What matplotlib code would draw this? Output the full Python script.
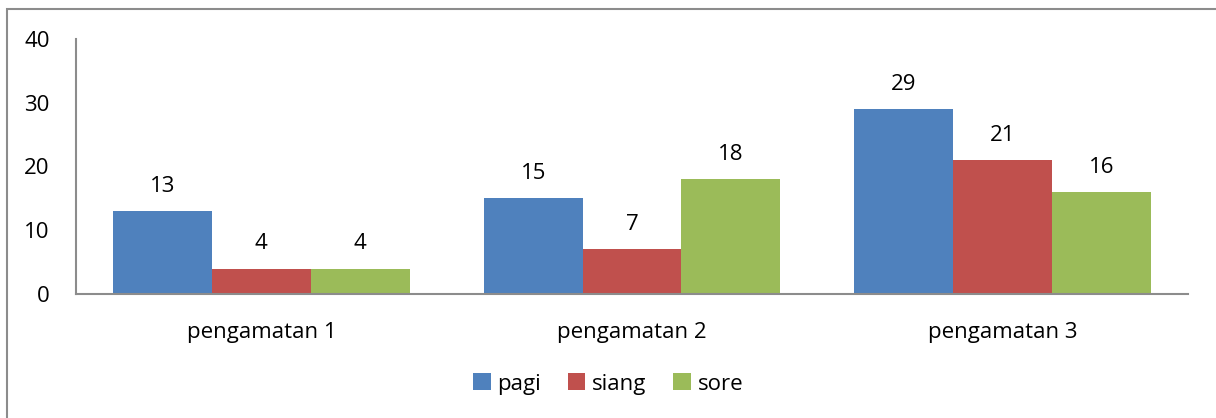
import matplotlib.pyplot as plt
import numpy as np
from matplotlib.patches import Rectangle

categories = ["pengamatan 1", "pengamatan 2", "pengamatan 3"]
series = ["pagi", "siang", "sore"]
pagi = [13, 15, 29]
siang = [4, 7, 21]
sore = [4, 18, 16]
colors = ["#4F81BD", "#C0504D", "#9BBB59"]

plt.rcParams['font.family'] = ['Open Sans', 'DejaVu Sans']

fig = plt.figure(figsize=(12.16, 4.18), dpi=100)
ax = fig.add_axes([76/1216, 1 - 294/418, (1188 - 76)/1216, (294 - 39)/418])

# outer chart frame
fig.patches.append(Rectangle((7/1216, -0.05), 1.1, 1 - 9.5/418 + 0.05, transform=fig.transFigure,
                             fill=False, edgecolor="#8c8c8c", linewidth=1.5))

x = np.arange(len(categories))
w = 0.8 / 3
for i, (name, vals) in enumerate(zip(series, [pagi, siang, sore])):
    bars = ax.bar(x + (i - 1) * w, vals, w, color=colors[i], label=name)
    for b, v in zip(bars, vals):
        ax.text(b.get_x() + b.get_width() / 2, v + 2.2, str(v), ha="center", va="bottom", fontsize=16)

ax.set_xlim(-0.5, 2.5)
ax.set_ylim(0, 40)
ax.set_yticks([0, 10, 20, 30, 40])
ax.set_xticks(x)
ax.set_xticklabels(categories)
ax.tick_params(length=0, labelsize=16, colors="black")
ax.tick_params(axis="y", pad=19)
ax.tick_params(axis="x", pad=20)
for s in ["top", "right"]:
    ax.spines[s].set_visible(False)
for s in ["left", "bottom"]:
    ax.spines[s].set_color("#8c8c8c")
    ax.spines[s].set_linewidth(1.5)

fig.legend(loc="center", bbox_to_anchor=(0.5, 1 - 384/418), ncol=3, frameon=False, fontsize=16,
           handlelength=0.8, handleheight=0.8, handletextpad=0.3, columnspacing=1.2)

plt.savefig("out.png", dpi=100)
